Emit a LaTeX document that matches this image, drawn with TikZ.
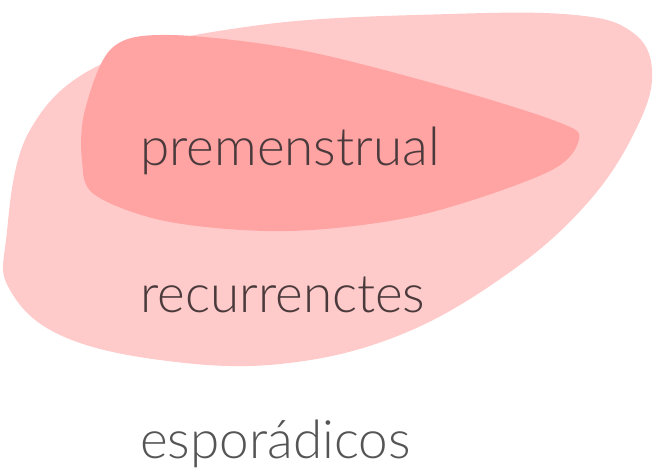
\documentclass[tikz,border=0pt]{standalone}
\usepackage{fontspec}
\setmainfont{Lato}[UprightFont=* Light]
\definecolor{outerpink}{HTML}{FFCACA}
\definecolor{innerpink}{HTML}{FFA3A3}
\definecolor{labeldark}{HTML}{4A3A3C}
\definecolor{labelgray}{HTML}{555555}
\tikzset{
  label/.style={anchor=base west, inner sep=0pt, font=\fontsize{53}{63}\selectfont, text=labeldark},
}
\begin{document}
\begin{tikzpicture}[x=1pt,y=-1pt]
	\useasboundingbox (0,0) rectangle (656,472);
	% outer region
	\fill[outerpink] plot[smooth cycle, tension=0.65] coordinates {
		(6,240) (30,130) (110,60) (260,25) (450,14) (575,15) (632,32) (652,70)
		(638,125) (590,200) (510,272) (400,335) (280,364) (160,360) (60,335) (10,290)};
	% inner region
	\fill[innerpink] plot[smooth cycle, tension=0.55] coordinates {
		(85,110) (112,48) (170,35) (300,50) (450,88) (558,122) (579,139)
		(548,172) (420,215) (290,231) (170,222) (95,195) (82,160)};
	\node[label] (prem) at (140,165) {premenstrual};
	\node[label] (recu) at (140,312) {recurrenctes};
	\node[label, text=labelgray] (espo) at (140,458) {esporádicos};
\end{tikzpicture}
\end{document}
